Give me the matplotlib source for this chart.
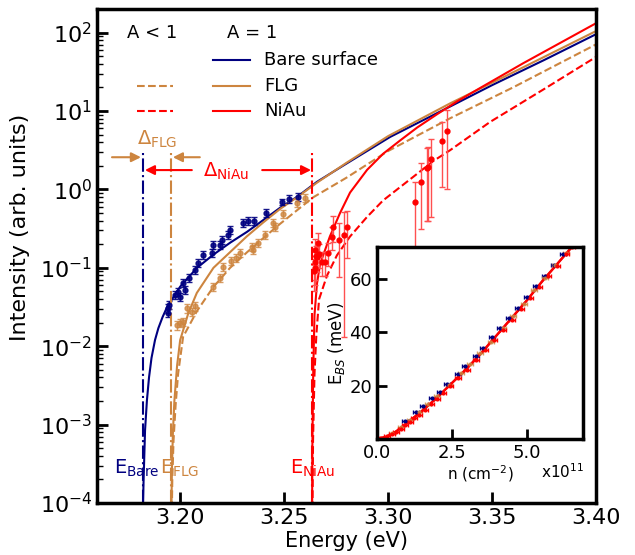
import numpy as np
import matplotlib
matplotlib.use('Agg')
import matplotlib.pyplot as plt

# colours
c_bare = '#000080'
c_flg = '#cd853f'
c_niau = '#ff0000'

# onset energies (eV)
e_bare, e_flg, e_niau = 3.1820, 3.1956, 3.2633

# fitted curves, A = 1 (solid) and A < 1 (dashed), log10 of intensity
bare_fit_e = [3.1819, 3.1824, 3.1831, 3.1840, 3.1850, 3.1862, 3.1879, 3.1895, 3.1915, 3.1937, 3.2000, 3.2081,
              3.2158, 3.2240, 3.2322, 3.2400, 3.2480, 3.2562, 3.2658, 3.2800, 3.3010, 3.3300, 3.3500,
              3.3750, 3.4000]
bare_fit_log = [-4.3, -3.7, -3.07, -2.69, -2.40, -2.15, -1.92, -1.77, -1.63, -1.50, -1.24, -1.00,
                -0.835, -0.68, -0.54, -0.39, -0.235, -0.095, 0.097, 0.33, 0.67, 1.06, 1.33,
                1.65, 1.98]

flg_fit_e = [3.1957, 3.1960, 3.1965, 3.1972, 3.1985, 3.2000, 3.2039, 3.2080, 3.2160, 3.2240, 3.2320,
             3.2400, 3.2480, 3.2562, 3.2660, 3.2800, 3.3000, 3.3300, 3.3500, 3.3750, 3.4000]
flg_fit_log = [-4.3, -3.6, -3.1, -2.7, -2.25, -1.92, -1.58, -1.32, -1.0, -0.80, -0.60,
               -0.42, -0.25, -0.10, 0.09, 0.34, 0.68, 1.10, 1.36, 1.69, 2.02]

flg_dash_e = [3.1958, 3.1962, 3.1968, 3.1978, 3.1990, 3.2014, 3.2081, 3.2158, 3.2240, 3.2322, 3.2400,
              3.2480, 3.2560, 3.2640, 3.2800, 3.3000, 3.3300, 3.3600, 3.4000]
flg_dash_log = [-4.5, -3.7, -3.2, -2.75, -2.35, -1.88, -1.55, -1.25, -1.0, -0.80, -0.62,
                -0.44, -0.27, -0.10, 0.15, 0.49, 0.91, 1.30, 1.85]

niau_fit_e = [3.2634, 3.2636, 3.2640, 3.2646, 3.2658, 3.2673, 3.2720, 3.2769, 3.2817, 3.2899, 3.2976,
              3.3058, 3.3140, 3.3236, 3.3330, 3.3440, 3.3650, 3.4000]
niau_fit_log = [-4.3, -3.2, -2.3, -1.6, -1.2, -0.95, -0.60, -0.30, -0.04, 0.25, 0.455,
                0.625, 0.79, 0.96, 1.12, 1.29, 1.61, 2.12]

niau_dash_e = [3.2635, 3.2639, 3.2646, 3.2655, 3.2668, 3.2706, 3.2754, 3.2817, 3.2899, 3.2976, 3.3058,
               3.3140, 3.3216, 3.3298, 3.3490, 3.3750, 3.4000]
niau_dash_log = [-4.5, -3.2, -2.35, -1.85, -1.40, -1.10, -0.84, -0.60, -0.35, -0.14, 0.03,
                 0.20, 0.36, 0.50, 0.86, 1.28, 1.69]

# measured points
bare_e = [3.1942, 3.1942, 3.1946, 3.1975, 3.1990, 3.1999, 3.2014, 3.2023, 3.2043, 3.2071, 3.2086,
          3.2110, 3.2153, 3.2158, 3.2192, 3.2201, 3.2230, 3.2240, 3.2302, 3.2326, 3.2355, 3.2413,
          3.2490, 3.2524, 3.2567]
bare_i = [0.0265, 0.0308, 0.0336, 0.0451, 0.0492, 0.0425, 0.0641, 0.0522, 0.0743, 0.094, 0.1156,
          0.146, 0.155, 0.196, 0.196, 0.227, 0.263, 0.305, 0.374, 0.398, 0.398, 0.501,
          0.695, 0.759, 0.804]
bare_err = [0.003, 0.004, 0.004, 0.005, 0.006, 0.005, 0.007, 0.006, 0.009, 0.011, 0.013,
            0.017, 0.018, 0.022, 0.022, 0.026, 0.030, 0.035, 0.040, 0.045, 0.045, 0.055,
            0.070, 0.080, 0.085]

flg_e = [3.1985, 3.1999, 3.2014, 3.2033, 3.2057, 3.2071, 3.2158, 3.2192, 3.2206, 3.2245, 3.2269,
         3.2288, 3.2346, 3.2350, 3.2374, 3.2408, 3.2447, 3.2456, 3.2495, 3.2562, 3.2600]
flg_i = [0.0186, 0.020, 0.0204, 0.0309, 0.0275, 0.0324, 0.0575, 0.0741, 0.102, 0.123, 0.135,
         0.155, 0.186, 0.170, 0.209, 0.263, 0.372, 0.331, 0.49, 0.676, 0.776]
flg_err = [0.0025, 0.0025, 0.0025, 0.004, 0.0035, 0.004, 0.007, 0.009, 0.012, 0.015, 0.016,
           0.019, 0.022, 0.020, 0.025, 0.030, 0.045, 0.040, 0.055, 0.080, 0.090]

niau_e = [3.2645, 3.2647, 3.2649, 3.2650, 3.2654, 3.2658, 3.2663, 3.2670, 3.2682, 3.2697, 3.2711,
          3.2730, 3.2735, 3.2764, 3.2788, 3.2803, 3.3130, 3.3159, 3.3187, 3.3192, 3.3207,
          3.3259, 3.3283]
niau_i = [0.09, 0.12, 0.10, 0.17, 0.14, 0.138, 0.209, 0.15, 0.119, 0.119, 0.155,
          0.248, 0.333, 0.227, 0.263, 0.333, 0.695, 1.25, 1.89, 1.95, 2.45,
          4.17, 5.6]
niau_err = [0.04, 0.05, 0.04, 0.06, 0.05, 0.05, 0.07, 0.05, 0.04, 0.04, 0.05,
            0.08, 0.12, 0.15, 0.25, 0.20, 0.55, 0.94, 1.5, 1.55, 2.0,
            3.1, 4.6]

# inset: band shift E_BS (meV) versus carrier density n (1e11 cm^-2)
ins_fit_n = [0.0, 0.3, 0.6, 1.0, 1.5, 2.0, 2.5, 3.0, 3.5, 4.0, 4.5, 5.0, 5.5, 6.0, 6.5, 6.9]
ins_fit_e = [0.0, 0.8, 2.5, 6.0, 10.5, 15.5, 21.0, 26.5, 32.5, 39.0, 45.5, 52.0, 59.0, 65.5, 72.0, 77.0]

ins_bare_n = [0.95, 1.3, 1.55, 1.85, 2.1, 2.35, 2.7, 2.95, 3.3, 3.55, 3.85, 4.1, 4.4, 4.7, 5.0, 5.3, 5.6, 5.9, 6.2]
ins_bare_e = [6.8, 10.0, 12.3, 15.2, 17.8, 20.6, 24.4, 27.3, 31.2, 34.2, 38.2, 41.5, 45.3, 49.2, 53.2, 57.2, 61.2, 65.1, 69.2]

ins_flg_n = [0.5, 0.8, 1.1, 1.4, 1.7, 2.0, 2.4, 2.8, 3.1, 3.45, 3.8, 4.2, 4.55, 4.9, 5.25, 5.6, 5.95, 6.3]
ins_flg_e = [2.3, 4.6, 7.2, 10.0, 13.0, 16.0, 20.4, 24.8, 28.0, 32.3, 36.5, 41.8, 46.3, 50.8, 55.8, 60.5, 65.2, 69.8]

ins_niau_n = [0.05, 0.2, 0.35, 0.5, 0.65, 0.8, 0.95, 1.1, 1.25, 1.4, 1.6, 1.8, 2.0, 2.2, 2.45, 2.7,
              3.0, 3.3, 3.6, 3.9, 4.2, 4.5, 4.8, 5.1, 5.4, 5.7, 6.0, 6.3, 6.5]
ins_niau_e = [0.2, 0.5, 1.0, 1.8, 2.8, 3.9, 5.1, 6.4, 7.7, 9.1, 11.0, 13.0, 15.0, 17.2, 20.0, 22.8,
              26.0, 29.5, 33.2, 37.0, 40.8, 44.8, 48.6, 52.8, 57.0, 61.0, 65.0, 69.3, 72.0]

fig = plt.figure(figsize=(6.35, 5.55), dpi=100)
ax = fig.add_axes([0.1528, 0.0937, 0.7858, 0.890])

ax.plot(bare_fit_e, 10 ** np.array(bare_fit_log), color=c_bare, lw=1.5)
ax.plot(flg_fit_e, 10 ** np.array(flg_fit_log), color=c_flg, lw=1.5)
ax.plot(flg_dash_e, 10 ** np.array(flg_dash_log), color=c_flg, lw=1.5, ls='--')
ax.plot(niau_fit_e, 10 ** np.array(niau_fit_log), color=c_niau, lw=1.5)
ax.plot(niau_dash_e, 10 ** np.array(niau_dash_log), color=c_niau, lw=1.5, ls='--')

ax.errorbar(bare_e, bare_i, yerr=bare_err, fmt='o', ms=3.5, color=c_bare, ecolor=c_bare,
            elinewidth=1, capsize=2, alpha=0.9)
ax.errorbar(flg_e, flg_i, yerr=flg_err, fmt='o', ms=3.5, color=c_flg, ecolor=c_flg,
            elinewidth=1, capsize=2, alpha=0.8)
ax.errorbar(niau_e, niau_i, yerr=niau_err, fmt='o', ms=3.5, color=c_niau, ecolor='#ff5050',
            elinewidth=1, capsize=2)

# onset lines
ax.axvline(e_bare, ymin=0, ymax=0.709, color=c_bare, ls='-.', lw=1.5)
ax.axvline(e_flg, ymin=0, ymax=0.709, color=c_flg, ls='-.', lw=1.5)
ax.axvline(e_niau, ymin=0, ymax=0.709, color=c_niau, ls='-.', lw=1.5)

tr = ax.get_xaxis_transform()
ax.text(e_bare - 0.003, 0.071, r'E$_{\mathrm{Bare}}$', color=c_bare, fontsize=14, ha='center', va='center', transform=tr)
ax.text(e_flg + 0.004, 0.071, r'E$_{\mathrm{FLG}}$', color=c_flg, fontsize=14, ha='center', va='center', transform=tr)
ax.text(e_niau + 0.0005, 0.071, r'E$_{\mathrm{NiAu}}$', color=c_niau, fontsize=14, ha='center', va='center', transform=tr)

# shift arrows
aprops = dict(arrowstyle='-|>', lw=1.5, mutation_scale=14, shrinkA=0, shrinkB=0)
ax.annotate('', xy=(0.088, 0.700), xytext=(0.030, 0.700), xycoords='axes fraction',
            arrowprops=dict(color=c_flg, **aprops))
ax.annotate('', xy=(0.152, 0.700), xytext=(0.206, 0.700), xycoords='axes fraction',
            arrowprops=dict(color=c_flg, **aprops))
ax.annotate('', xy=(0.096, 0.674), xytext=(0.190, 0.674), xycoords='axes fraction',
            arrowprops=dict(color=c_niau, **aprops))
ax.annotate('', xy=(0.429, 0.674), xytext=(0.331, 0.674), xycoords='axes fraction',
            arrowprops=dict(color=c_niau, **aprops))
ax.text(0.120, 0.737, r'$\Delta_{\mathrm{FLG}}$', color=c_flg, fontsize=14, ha='center', va='center', transform=ax.transAxes)
ax.text(0.259, 0.672, r'$\Delta_{\mathrm{NiAu}}$', color=c_niau, fontsize=14, ha='center', va='center', transform=ax.transAxes)

# hand-made legend
ax.text(0.110, 0.951, 'A < 1', fontsize=13, ha='center', va='center', transform=ax.transAxes)
ax.text(0.311, 0.951, 'A = 1', fontsize=13, ha='center', va='center', transform=ax.transAxes)
for yy, col, lab in [(0.897, c_bare, 'Bare surface'), (0.844, c_flg, 'FLG'), (0.794, c_niau, 'NiAu')]:
    ax.plot([0.232, 0.307], [yy, yy], color=col, lw=1.5, transform=ax.transAxes)
    ax.text(0.335, yy, lab, fontsize=13, ha='left', va='center', transform=ax.transAxes)
for yy, col in [(0.844, c_flg), (0.794, c_niau)]:
    ax.plot([0.080, 0.152], [yy, yy], color=col, lw=1.5, ls='--', transform=ax.transAxes)

ax.set_yscale('log')
ax.set_xlim(3.16, 3.40)
ax.set_ylim(1e-4, 200)
ax.set_xticks([3.20, 3.25, 3.30, 3.35, 3.40])
ax.set_xticklabels(['3.20', '3.25', '3.30', '3.35', '3.40'])
ax.set_xlabel('Energy (eV)', fontsize=15, labelpad=2)
ax.set_ylabel('Intensity (arb. units)', fontsize=16)
ax.yaxis.set_label_coords(-0.135, 0.559)
ax.tick_params(axis='both', which='major', direction='in', length=8, width=2, labelsize=16, top=False, right=False)
ax.tick_params(axis='y', which='minor', direction='in', length=4, width=1)
ax.tick_params(axis='x', which='minor', bottom=False)
for s in ax.spines.values():
    s.set_linewidth(2.5)

# inset
axi = fig.add_axes([0.5937, 0.209, 0.3244, 0.346])
axi.plot(ins_fit_n, ins_fit_e, color=c_bare, lw=1.2)
axi.plot(ins_fit_n, ins_fit_e, color=c_flg, lw=1.2)
axi.errorbar(ins_bare_n, ins_bare_e, xerr=0.1, fmt='o', ms=2, color=c_bare, elinewidth=1, capsize=1.5)
axi.errorbar(ins_flg_n, ins_flg_e, xerr=0.1, fmt='o', ms=2, color=c_flg, elinewidth=1, capsize=1.5, alpha=0.8)
axi.errorbar(ins_niau_n, ins_niau_e, xerr=0.1, fmt='o', ms=2, color=c_niau, elinewidth=1, capsize=1.5)
axi.plot(ins_fit_n, ins_fit_e, color=c_niau, lw=1.8)
axi.set_xlim(0, 6.87)
axi.set_ylim(0, 72)
axi.set_xticks([0.0, 2.5, 5.0])
axi.set_xticklabels(['0.0', '2.5', '5.0'])
axi.set_yticks([20, 40, 60])
axi.tick_params(direction='in', length=7, width=2, labelsize=13)
axi.set_xlabel(r'n (cm$^{-2}$)', fontsize=11, labelpad=1)
axi.set_ylabel(r'E$_{BS}$ (meV)', fontsize=12, labelpad=2)
axi.text(0.90, -0.17, r'x10$^{11}$', fontsize=11, ha='center', va='center', transform=axi.transAxes)
for s in axi.spines.values():
    s.set_linewidth(2.5)

plt.savefig('out.png', dpi=100)
